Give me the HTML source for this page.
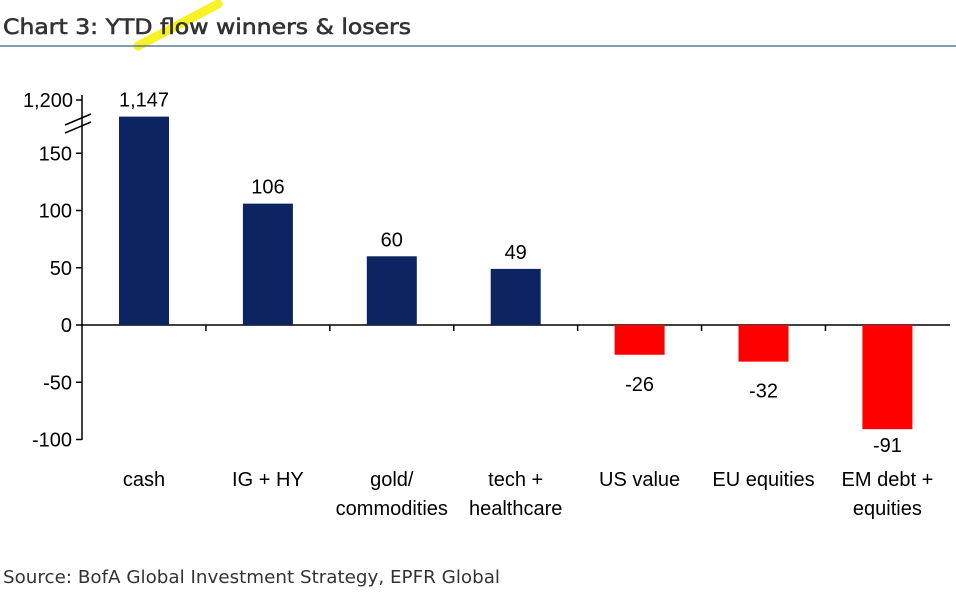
<!DOCTYPE html>
<html><head><meta charset="utf-8"><style>
body{margin:0;background:#fff;width:956px;height:594px;overflow:hidden;font-family:"Liberation Sans",sans-serif}
</style></head><body>
<svg width="956" height="594" xmlns="http://www.w3.org/2000/svg">
<path d="M138 46 L218 4" stroke="#f5f000" stroke-width="9" stroke-linecap="round" opacity="0.85"/>
<text x="3" y="34" font-size="21" fill="#333" stroke="#333" stroke-width="0.6" font-family="DejaVu Sans, sans-serif" textLength="408" lengthAdjust="spacingAndGlyphs">Chart 3: YTD flow winners &amp; losers</text>
<line x1="0" y1="46" x2="956" y2="46" stroke="#5b7a9a" stroke-width="1.5"/>
<text x="3" y="583" font-size="18" fill="#333" font-family="DejaVu Sans, sans-serif" textLength="497" lengthAdjust="spacingAndGlyphs">Source: BofA Global Investment Strategy, EPFR Global</text>
<g id="plot"></g>
</svg>
<script>
const categories=[["cash"],["IG + HY"],["gold/","commodities"],["tech +","healthcare"],["US value"],["EU equities"],["EM debt +","equities"]];
const values=[1147,106,60,49,-26,-32,-91];
const labels=["1,147","106","60","49","-26","-32","-91"];
const ticks=[-100,-50,0,50,100,150];
const ns="http://www.w3.org/2000/svg";
const g=document.getElementById('plot');
const y0=325,k=1.145,axisX=82,x0=144,step=123.9,bw=50;
function yLin(v){return y0-v*k;}
function yS(v){return yLin(Math.min(v,182));}
function xS(i){return x0+i*step;}
function el(t,a,txt){const e=document.createElementNS(ns,t);for(const n in a)e.setAttribute(n,a[n]);if(txt!==undefined)e.textContent=txt;g.appendChild(e);return e;}
let ax=el('line',{x1:axisX,y1:95,x2:axisX,y2:440,stroke:'#000','stroke-width':1.5});


ticks.forEach(t=>{
 let l=el('line',{x1:axisX-6,y1:yLin(t),x2:axisX,y2:yLin(t),stroke:'#000','stroke-width':1.5});
 
 
 let tx=el('text',{x:axisX-10,y:yLin(t)+7,'font-size':20,'text-anchor':'end',fill:'#000'},String(t));
 
 
});
let tt=el('line',{x1:axisX-6,y1:100,x2:axisX,y2:100,stroke:'#000','stroke-width':1.5});


let tl=el('text',{x:axisX-9,y:107,'font-size':20,'text-anchor':'end',fill:'#000'},"1,200");


[0,8].forEach(d=>{let b=el('line',{x1:axisX-17,y1:125+d,x2:axisX+9,y2:114+d,stroke:'#000','stroke-width':1.5});
 
 });
let xa=el('line',{x1:axisX,y1:y0,x2:950,y2:y0,stroke:'#000','stroke-width':1.5});


values.forEach((v,i)=>{
 const cx=xS(i),yt=yS(v);
 if(i>0){let s=el('line',{x1:cx-step/2,y1:y0,x2:cx-step/2,y2:y0+6,stroke:'#000','stroke-width':1.5});
  
  }
 let r=el('rect',{x:cx-bw/2,y:Math.min(yt,y0),width:bw,height:Math.abs(y0-yt),fill:v>=0?'#0c2461':'#ff0000'});
 
 
 let ly=v>=0?yt-10:Math.min(yt+36,452);
 let t=el('text',{x:cx,y:ly,'font-size':20,'text-anchor':'middle',fill:'#000'},labels[i]);
 
 
 categories[i].forEach((line,j)=>{
  let c=el('text',{x:cx,y:486+j*29,'font-size':20,'text-anchor':'middle',fill:'#000'},line);
  
  
 });
});
</script>
</body></html>
